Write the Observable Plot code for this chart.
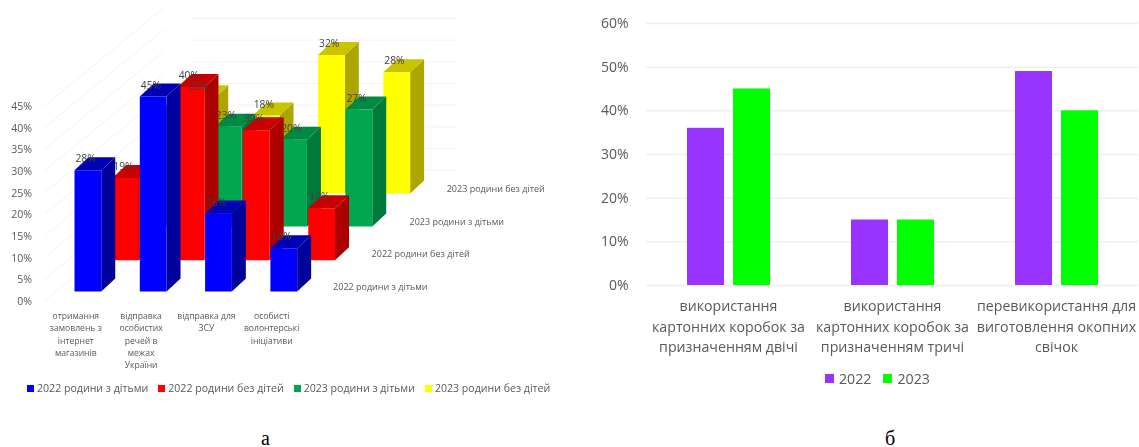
<!DOCTYPE html>
<html><head><meta charset="utf-8">
<script src="https://cdn.jsdelivr.net/npm/d3@7"></script>
<script src="https://cdn.jsdelivr.net/npm/@observablehq/plot@0.6"></script>
<style>
html,body{margin:0;padding:0;background:#fff;width:1139px;height:447px;overflow:hidden}
body{position:relative;font-family:"Open Sans",sans-serif;color:#595959}
#left,#right{position:absolute;top:0;filter:blur(.4px)}
#left{left:0}#right{left:570px}
svg{display:block;background:transparent}
svg text{filter:blur(.55px)}
.legend{position:absolute;display:flex;align-items:center;white-space:nowrap;filter:blur(.6px)}
.legend i{display:inline-block;flex:none}
.cap{position:absolute;font-family:"Liberation Serif",serif;font-size:20px;color:#000;line-height:20px}
</style></head><body>
<div id="left"></div><div id="right"></div>
<div class="legend" id="lgL" style="left:27px;top:380px;font-size:10.6px;height:16px"></div>
<div class="legend" id="lgR" style="left:825px;top:369px;font-size:14.2px;height:18px"></div>
<div class="cap" style="left:261px;top:428px">а</div>
<div class="cap" style="left:885px;top:428px">б</div>
<script>
// ---- Chart а (3D columns) ----
const categoriesA = [
  "отримання\nзамовлень з\nінтернет\nмагазинів",
  "відправка\nособистих\nречей в\nмежах\nУкраїни",
  "відправка для\nЗСУ",
  "особисті\nволонтерські\nініціативи"
];
const seriesA = ["2022 родини з дітьми","2022 родини без дітей","2023 родини з дітьми","2023 родини без дітей"];
const s2022WithKids   = [28,45,18,10];
const s2022NoKids     = [19,40,30,12];
const s2023WithKids   = [25,23,20,27];
const s2023NoKids     = [22,18,32,28];
const valuesA = [s2022WithKids,s2022NoKids,s2023WithKids,s2023NoKids];
const frontColors = ["#0000ff","#ff0000","#00a650","#ffff00"];
const topColors   = ["#0000b4","#c80000","#008a42","#c8c400"];
const sideColors  = ["#00009a","#ac0000","#007a3a","#aea600"];
// ---- Chart б ----
const categoriesB = [
  "використання\nкартонних коробок за\nпризначенням двічі",
  "використання\nкартонних коробок за\nпризначенням тричі",
  "перевикористання для\nвиготовлення окопних\nсвічок"
];
const years = ["2022","2023"];
const v2022 = [36,15,49];
const v2023 = [45,15,40];
const yearColors = ["#9933ff","#00ff00"];

// oblique projection settings, in chart units
const seriesShiftX = [0,.58,1.15,1.73];
const seriesShiftY = [2.3,9.5,17.3,24.9];
const barW = .41, depthX = .214, depthY = 3;
const faces = [], labels = [];
for (let s = 3; s >= 0; s--) {
  valuesA[s].forEach((v,c) => {
    const x0 = c + seriesShiftX[s], x1 = x0 + barW, b = seriesShiftY[s], t = b + v;
    const add = (name,fill,pts) => pts.forEach(p => faces.push({id:`${s}-${c}-${name}`,fill,x:p[0],y:p[1]}));
    add("side",sideColors[s],[[x1,b],[x1+depthX,b+depthY],[x1+depthX,t+depthY],[x1,t]]);
    add("top",topColors[s],[[x0,t],[x0+depthX,t+depthY],[x1+depthX,t+depthY],[x1,t]]);
    add("front",frontColors[s],[[x0,b],[x1,b],[x1,t],[x0,t]]);
    if (!(s === 2 && c === 0)) labels.push({x:x0+.17,y:t+2.6,t:v+"%"});
  });
}
const ticksA = d3.range(0,50,5);
const wall = ticksA.filter(d=>d>=10);
const plotA = Plot.plot({
  width:570,height:400,marginLeft:0,marginRight:0,marginTop:0,marginBottom:0,
  x:{domain:[0,4],range:[74,74+65.3*4],axis:null},
  y:{domain:[0,45],range:[301,106],axis:null},
  color:{type:"identity"},
  style:{fontFamily:"Open Sans, sans-serif",color:"#595959",background:"transparent"},
  marks:[
    Plot.link(ticksA,{x1:-.47,x2:1.37,y1:d=>d,y2:d=>d+22.8,stroke:"#f3f3f3"}),
    Plot.ruleY(wall,{y:d=>d+20.3,x1:1.78,x2:5.87,stroke:"#f3f3f3"}),
    Plot.text(ticksA,{x:-.65,y:d=>d,text:d=>d+"%",textAnchor:"end",fontSize:10.6,fill:"#595959"}),
    Plot.line(faces,{x:"x",y:"y",z:"id",fill:"fill",stroke:"none"}),
    Plot.text(labels,{x:"x",y:"y",text:"t",fontSize:10.3,fill:"#404040"}),
    Plot.text(categoriesA,{x:(d,i)=>i+.02,y:0,text:d=>d,dy:9,lineAnchor:"top",lineHeight:1.42,fontSize:8.6,fill:"#595959"}),
    Plot.text(seriesA,{x:(d,i)=>[3.96,4.55,5.13,5.7][i],y:(d,i)=>[3.4,11,18.4,26][i],text:d=>d,textAnchor:"start",fontSize:9,fill:"#595959"})
  ]
});
document.getElementById("left").append(plotA);

const rowsB = [];
categoriesB.forEach((c,i)=>{
  rowsB.push({c,year:years[0],v:v2022[i],col:yearColors[0]});
  rowsB.push({c,year:years[1],v:v2023[i],col:yearColors[1]});
});
const plotB = Plot.plot({
  width:569,height:360,marginLeft:75,marginRight:0,marginTop:23,marginBottom:75,
  fx:{domain:categoriesB,padding:0,label:null},
  x:{domain:years,paddingInner:.2,paddingOuter:.85,axis:null},
  y:{domain:[0,60],label:null},
  color:{type:"identity"},
  style:{fontFamily:"Open Sans, sans-serif",color:"#595959",background:"transparent"},
  marks:[
    Plot.gridY([10,20,30,40,50,60],{stroke:"#f0f0f0",strokeOpacity:1,strokeWidth:1.5}),
    Plot.ruleY([0],{stroke:"#eeeeee",strokeWidth:1.5}),
    Plot.axisY({ticks:[0,10,20,30,40,50,60],tickFormat:d=>d+"%",tickSize:0,tickPadding:18,fontSize:14,label:null,fill:"#595959"}),
    Plot.axisFx({anchor:"bottom",tickSize:0,tickPadding:11,fontSize:14.2,lineHeight:1.45,label:null,fill:"#595959"}),
    Plot.barY(rowsB,{fx:"c",x:"year",y:"v",fill:"col"})
  ]
});
document.getElementById("right").append(plotB);

function legend(el,names,cols,size,gap,after){
  names.forEach((n,i)=>{
    const sw=document.createElement("i");
    sw.style.cssText=`width:${size}px;height:${size}px;background:${cols[i]};margin-right:${gap}px`;
    const t=document.createElement("span");t.textContent=n;t.style.marginRight=after+"px";
    el.append(sw,t);
  });
}
legend(document.getElementById("lgL"),seriesA,["#0000ff","#ff0000","#00a650","#ffff00"],7,3,10);
legend(document.getElementById("lgR"),years,yearColors,9,5,12);
</script>
</body></html>
